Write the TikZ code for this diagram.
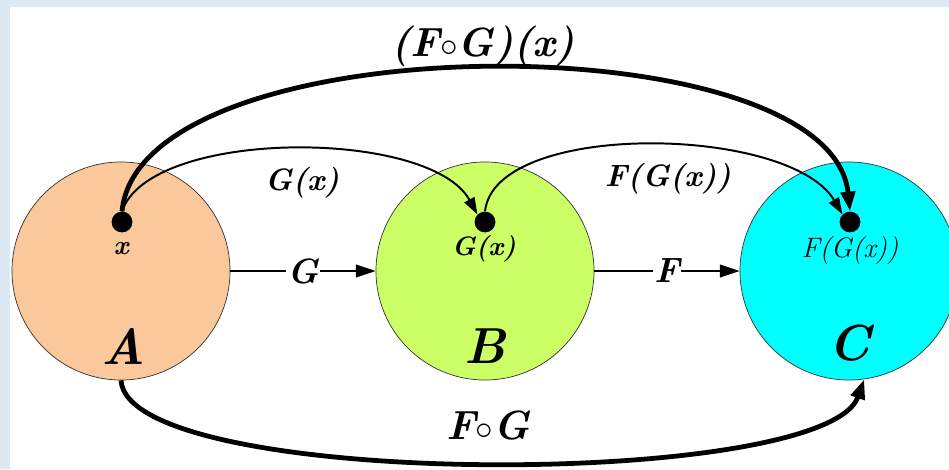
\documentclass[tikz,border=0pt]{standalone}
\usepackage{tikz}
\usetikzlibrary{arrows.meta, positioning}

\definecolor{frameblue}{RGB}{221,232,245}
\definecolor{setAfill}{RGB}{250,200,155}
\definecolor{setBfill}{RGB}{204,255,102}
\definecolor{setCfill}{RGB}{0,255,255}

\begin{document}
\begin{tikzpicture}[x=0.025cm, y=-0.025cm,
		setnode/.style={circle, draw=black!80, line width=0.5pt, minimum size=5.45cm, inner sep=0pt},
		elem/.style={circle, fill=black, minimum size=0.52cm, inner sep=0pt},
		lbl/.style={font=\fontsize{22}{26}\selectfont\bfseries\itshape, inner sep=1pt},
		biglbl/.style={font=\fontsize{36}{40}\selectfont\bfseries\itshape, inner sep=1pt},
		maplbl/.style={font=\fontsize{29}{32}\selectfont\bfseries\itshape, inner sep=1pt},
		setmap/.style={line width=1.4pt, -{Triangle[length=14pt, width=9pt]}},
		thinmap/.style={line width=1.4pt, -{Triangle[length=12pt, width=8pt]}},
		thickmap/.style={line width=3.4pt, -{Triangle[length=14pt, width=10pt]}}]
		\useasboundingbox (0,0) rectangle (949,469);
		% Frame:
		\fill[frameblue] (0,0) rectangle (949,469);
		\fill[white] (10,7) rectangle (949,469);
		% Sets:
		\node[setnode, fill=setAfill](setA) at (121, 271){};
		\node[setnode, fill=setBfill](setB) at (485, 271){};
		\node[setnode, fill=setCfill](setC) at (849, 271){};
		\node[biglbl](nameA) at (123, 346){A};
		\node[biglbl](nameB) at (485, 346){B};
		\node[biglbl](nameC) at (849, 343){C};
		% Elements:
		\node[elem](dotx) at (122, 222){};
		\node[elem](dotG) at (485, 222){};
		\node[elem](dotF) at (850, 222){};
		\node[lbl, font=\fontsize{19}{22}\selectfont\bfseries\itshape](elx) at (121, 249){x};
		\node[lbl, font=\fontsize{19}{22}\selectfont\bfseries\itshape](elG) at (484, 249){G(x)};
		\node[lbl, font=\fontsize{20}{24}\selectfont\itshape](elF) at (850, 250){F(G(x))};
		% Maps between sets:
		\draw[setmap] (setA) -- node[lbl, fill=white, font=\fontsize{25}{28}\selectfont\bfseries\itshape]{G} (setB);
		\draw[setmap] (setB) -- node[lbl, fill=white, font=\fontsize{25}{28}\selectfont\bfseries\itshape]{F} (setC);
		% Maps between elements:
		\draw[thinmap] (dotx.north) .. controls (150,128) and (430,128) .. (dotG.north west);
		\draw[thinmap] (dotG.north) .. controls (495,120) and (790,125) .. (dotF.north west);
		\draw[thickmap] (dotx.north) .. controls (140,22) and (830,20) .. (dotF.north);
		\draw[thickmap] (setA.south) .. controls (128,490) and (825,490) .. (setC.-82);
		% Map labels:
		\node[lbl](lblG) at (302, 183){G(x)};
		\node[lbl](lblF) at (668, 179){F(G(x))};
		\node[maplbl](lblFGx) at (483, 46){(F$\circ$G)(x)};
		\node[maplbl](lblFG) at (488, 426){F$\circ$G};
	\end{tikzpicture}
\end{document}
